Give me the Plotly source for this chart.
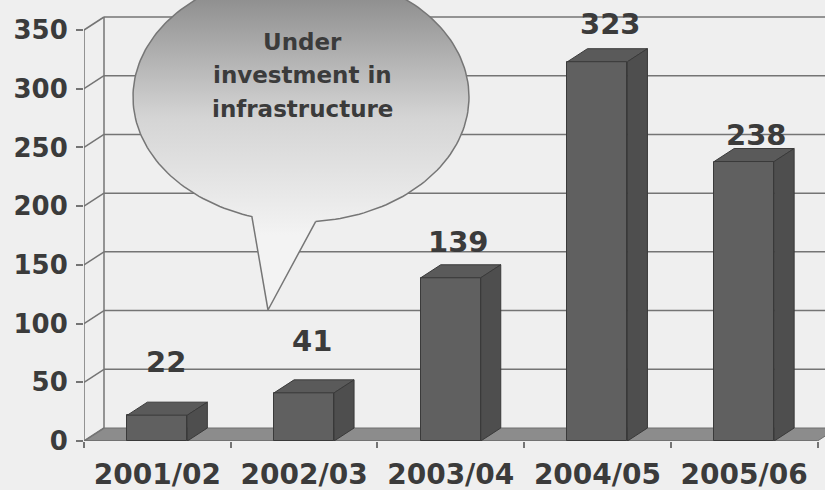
import numpy as np
import plotly.graph_objects as go

# ---- data -------------------------------------------------------------
years = ["2001/02", "2002/03", "2003/04", "2004/05", "2005/06"]
values = [22, 41, 139, 323, 238]
y_ticks = [0, 50, 100, 150, 200, 250, 300, 350]
callout_lines = ["Under", "investment in", "infrastructure"]

# per-label nudges for the value labels above the boxes (pixels)
label_xshift = [9, 8, 8, 13, 12]
label_yshift = [53, 52, 36, 38, 27]

# ---- geometry of the pseudo-3D box -------------------------------------
W, H = 825, 490
ML, MR, MT, MB = 84, 0, 0, 49
PX_PER_CAT = 146.7            # pixels per category step
PX_PER_UNIT = 411 / 350       # pixels per value unit
X_RANGE = [-0.5, -0.5 + (W - ML - MR) / PX_PER_CAT]
Y_RANGE = [0, (H - MT - MB) / PX_PER_UNIT]
DX = 20 / PX_PER_CAT          # depth offset, category units
DY = 13 / PX_PER_UNIT         # depth offset, value units
BAR_W = 60 / PX_PER_CAT
Y_TOP = y_ticks[-1]
X0, X1 = -0.5, len(years) - 0.5

BG = "#efefef"
GRID = "#747474"
TEXT = "#3b3b3b"
FONT = "DejaVu Sans"
FRONT = "#606060"
TOPC = "#5a5a5a"
SIDE = "#4e4e4e"
EDGE = "#3a3a3a"
FLOOR = "#8c8c8c"


def poly(pts):
    return "M " + " L ".join(f"{x},{y}" for x, y in pts) + " Z"


shapes = []
line_style = dict(color=GRID, width=1.5)

# floor
shapes.append(dict(type="path", xref="x", yref="y", layer="below",
                   path=poly([(X0, 0), (X1, 0), (X1 + DX, DY), (X0 + DX, DY)]),
                   fillcolor=FLOOR, line=dict(color="#6f6f6f", width=1)))

# back-wall gridlines and side-wall connectors
for v in y_ticks:
    if v > 0:
        shapes.append(dict(type="line", xref="x", yref="y", layer="below",
                           x0=X0 + DX, y0=v + DY, x1=X1 + DX + 1, y1=v + DY,
                           line=line_style))
    shapes.append(dict(type="line", xref="x", yref="y", layer="below",
                       x0=X0, y0=v, x1=X0 + DX, y1=v + DY, line=line_style))

# left wall verticals (front axis and back corner)
shapes.append(dict(type="line", xref="x", yref="y", layer="below",
                   x0=X0, y0=0, x1=X0, y1=Y_TOP, line=line_style))
shapes.append(dict(type="line", xref="x", yref="y", layer="below",
                   x0=X0 + DX, y0=DY, x1=X0 + DX, y1=Y_TOP + DY, line=line_style))
# front edge of floor
shapes.append(dict(type="line", xref="x", yref="y", layer="below",
                   x0=X0, y0=0, x1=X1, y1=0, line=dict(color="#6f6f6f", width=1.5)))

# top and side faces of each box, built from the values
for i, v in enumerate(values):
    xl, xr = i - BAR_W / 2, i + BAR_W / 2
    shapes.append(dict(type="path", xref="x", yref="y", layer="above",
                       path=poly([(xl, v), (xl + DX, v + DY), (xr + DX, v + DY), (xr, v)]),
                       fillcolor=TOPC, line=dict(color=EDGE, width=1)))
    shapes.append(dict(type="path", xref="x", yref="y", layer="above",
                       path=poly([(xr, 0), (xr, v), (xr + DX, v + DY), (xr + DX, DY)]),
                       fillcolor=SIDE, line=dict(color=EDGE, width=1)))

fig = go.Figure()

fig.add_trace(go.Bar(
    x=list(range(len(years))), y=values, width=BAR_W,
    marker=dict(color=FRONT, line=dict(color=EDGE, width=1)),
    hoverinfo="skip", showlegend=False,
))

# speech bubble drawn in pixel space on an overlay pair of axes
cx, cy, rx, ry = 301, 97, 168, 125
tail_tip = (268, 310)
t = np.radians(np.linspace(85, 107 - 360, 200))
bx = list(cx + rx * np.cos(t)) + [tail_tip[0], cx + rx * np.cos(t[0])]
by = list(cy + ry * np.sin(t)) + [tail_tip[1], cy + ry * np.sin(t[0])]
fig.add_trace(go.Scatter(
    x=bx, y=by, xaxis="x2", yaxis="y2", mode="lines", fill="toself",
    line=dict(color="#767676", width=1.5),
    fillgradient=dict(type="vertical", start=cy - ry, stop=235,
                      colorscale=[[0, "#808080"], [0.55, "#d4d4d4"], [1, "#f3f3f3"]]),
    hoverinfo="skip", showlegend=False,
))

annotations = []
for line_text, yc in zip(callout_lines, [42, 75, 109]):
    annotations.append(dict(x=302, y=yc, xref="x2", yref="y2", text=line_text,
                            showarrow=False, xanchor="center", yanchor="middle",
                            font=dict(family=FONT, size=23, color=TEXT, weight="bold")))

for i, v in enumerate(values):
    annotations.append(dict(x=i, y=v, xref="x", yref="y", text=str(v),
                            showarrow=False, xanchor="center", yanchor="middle",
                            xshift=label_xshift[i], yshift=label_yshift[i],
                            font=dict(family=FONT, size=29, color=TEXT, weight="bold")))

fig.update_layout(
    width=W, height=H,
    margin=dict(l=ML, r=MR, t=MT, b=MB, pad=0, autoexpand=False),
    paper_bgcolor=BG, plot_bgcolor=BG,
    shapes=shapes, annotations=annotations,
    bargap=0,
    xaxis=dict(range=X_RANGE, tickvals=list(range(len(years))), ticktext=years,
               ticks="", showgrid=False, zeroline=False, showline=False,
               tickfont=dict(family=FONT, size=28, color=TEXT, weight="bold"),
               ticklabelstandoff=14,
               minor=dict(tickvals=[X0 + k for k in range(len(years) + 1)],
                          ticks="outside", ticklen=6, tickwidth=1.5, tickcolor=GRID,
                          showgrid=False),
               fixedrange=True),
    yaxis=dict(range=Y_RANGE, tickvals=y_ticks, ticks="outside", ticklen=7,
               tickwidth=1.5, tickcolor=GRID, showgrid=False, zeroline=False,
               showline=False, ticklabelstandoff=3,
               tickfont=dict(family=FONT, size=26, color=TEXT, weight="bold"),
               fixedrange=True),
    xaxis2=dict(range=[ML, W - MR], overlaying="x", anchor="y2", visible=False,
                fixedrange=True),
    yaxis2=dict(range=[H - MB, MT], overlaying="y", anchor="x2", visible=False,
                fixedrange=True),
)

fig.write_html("out.html")
